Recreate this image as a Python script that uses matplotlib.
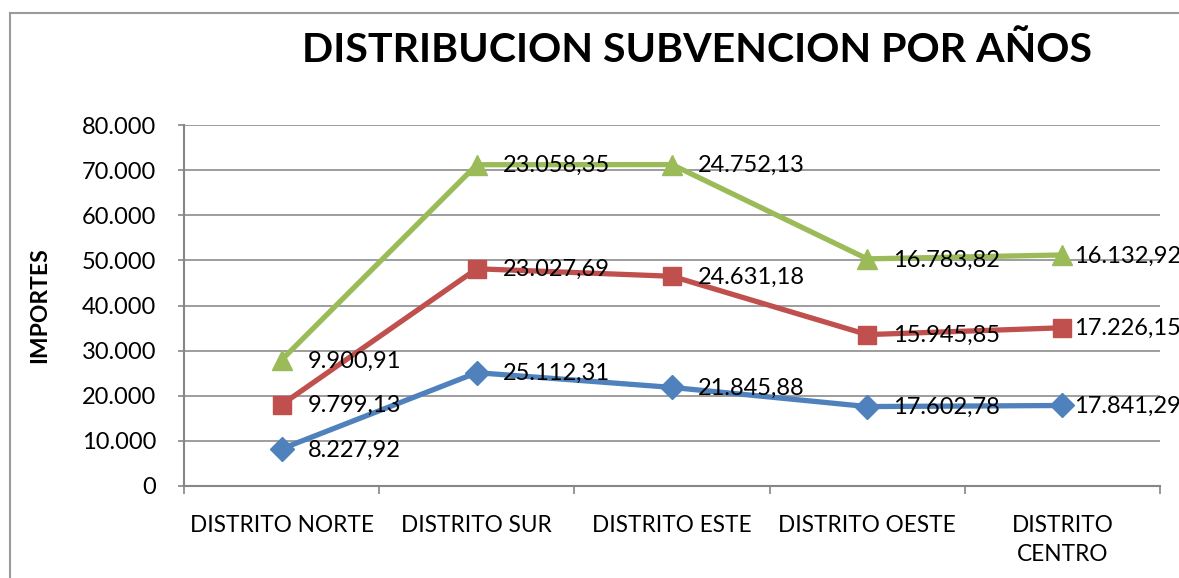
import matplotlib
matplotlib.use("Agg")
import matplotlib.pyplot as plt
from matplotlib.lines import Line2D

plt.rcParams['font.family'] = ['Lato', 'DejaVu Sans']

categories = ["DISTRITO NORTE", "DISTRITO SUR", "DISTRITO ESTE", "DISTRITO OESTE", "DISTRITO\nCENTRO"]
serie1 = [8227.92, 25112.31, 21845.88, 17602.78, 17841.29]
serie2 = [9799.13, 23027.69, 24631.18, 15945.85, 17226.15]
serie3 = [9900.91, 23058.35, 24752.13, 16783.82, 16132.92]
yticks = [0, 10000, 20000, 30000, 40000, 50000, 60000, 70000, 80000]
ytick_labels = ["0", "10.000", "20.000", "30.000", "40.000", "50.000", "60.000", "70.000", "80.000"]

colors = ["#4F81BD", "#C0504D", "#9BBB59"]
markers = ["D", "s", "^"]
msizes = [12, 13, 14]

W, H = 1179, 578
fig = plt.figure(figsize=(W / 100, H / 100), dpi=100)
fig.patch.set_facecolor("white")

# outer chart border (left and top visible)
fig.add_artist(Line2D([10 / W, 10 / W], [0, 1 - 13 / H], color="#9a9a9a", lw=1.5))
fig.add_artist(Line2D([10 / W, 1], [1 - 13 / H, 1 - 13 / H], color="#9a9a9a", lw=1.5))

L, R, T, B = 184, 1160, 125, 486
ax = fig.add_axes([L / W, 1 - B / H, (R - L) / W, (B - T) / H])

x = list(range(len(categories)))
cum = [0.0] * len(x)
stacks = []
for s in (serie1, serie2, serie3):
    cum = [c + v for c, v in zip(cum, s)]
    stacks.append(cum)

for i, (vals, top) in enumerate(zip((serie1, serie2, serie3), stacks)):
    ax.plot(x, top, color=colors[i], lw=3.8, marker=markers[i], markersize=msizes[i],
            markeredgecolor=colors[i], zorder=3 + i)
    for xi, yi, v in zip(x, top, vals):
        lbl = f"{v:,.2f}".replace(",", "X").replace(".", ",").replace("X", ".")
        dx = 12 if xi == len(categories) - 1 else 26
        ax.annotate(lbl, (xi, yi), xytext=(dx, -1), textcoords="offset pixels",
                    ha="left", va="center", fontsize=17, color="black", zorder=10,
                    annotation_clip=False)

ax.set_xlim(-0.5, len(categories) - 0.5)
ax.set_ylim(0, 80000)
ax.set_yticks(yticks)
ax.set_yticklabels(ytick_labels, fontsize=17)
ax.set_xticks(x)
ax.set_xticklabels(categories, fontsize=16.3, linespacing=1.45, va="top")
ax.tick_params(axis="x", which="major", length=0, pad=21)
ax.set_xticks([i - 0.5 for i in range(len(categories) + 1)], minor=True)
ax.tick_params(axis="x", which="minor", length=6, color="#868686", width=1.2)
ax.tick_params(axis="y", length=4, color="#868686", width=1.2, pad=16)
ax.grid(axis="y", color="#8c8c8c", lw=1.2)
ax.set_axisbelow(True)
for sp in ("top", "right"):
    ax.spines[sp].set_visible(False)
for sp in ("left", "bottom"):
    ax.spines[sp].set_color("#868686")
    ax.spines[sp].set_linewidth(1.5)

ax.set_ylabel("IMPORTES", fontsize=16.5, fontweight="bold", labelpad=14)
ax.yaxis.set_label_coords((50 - L) / (R - L), 0.5)

fig.text(697 / W, 1 - 50 / H, "DISTRIBUCION SUBVENCION POR AÑOS", ha="center", va="center",
         fontsize=29.6, fontweight="bold")

fig.savefig("out.png", dpi=100)
